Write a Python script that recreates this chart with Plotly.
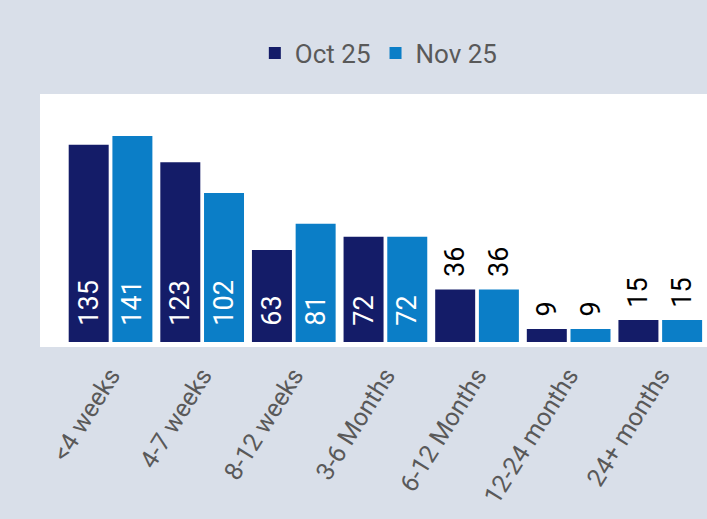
import plotly.graph_objects as go

categories = ["<4 weeks", "4-7 weeks", "8-12 weeks", "3-6 Months", "6-12 Months", "12-24 months", "24+ months"]
oct25 = [135, 123, 63, 72, 36, 9, 15]
nov25 = [141, 102, 81, 72, 36, 9, 15]
series_names = ["Oct 25", "Nov 25"]

NAVY = "#141c68"
BLUE = "#0b7ec7"
BG = "#d9dfe9"
FONT = "Roboto"

PAD_IN = "\u00a0\u00a0"
PAD_OUT = "\u00a0\u200a"


def trace(name, vals, color):
    pos = ["inside" if v > 50 else "outside" for v in vals]
    texts = [(PAD_IN + str(v)) if p == "inside" else (PAD_OUT + str(v)) for v, p in zip(vals, pos)]
    colors = ["white" if p == "inside" else "black" for p in pos]
    return go.Bar(
        name=name, x=categories, y=vals, marker=dict(color=color, line=dict(width=0)),
        text=texts, textposition=pos, textangle=-90, insidetextanchor="start",
        textfont=dict(family=FONT, size=27, color=colors),
        constraintext="none", cliponaxis=False,
    )


fig = go.Figure([trace(series_names[0], oct25, NAVY), trace(series_names[1], nov25, BLUE)])

fig.update_layout(
    width=707, height=519,
    margin=dict(l=40, r=0, t=94, b=172),
    paper_bgcolor=BG, plot_bgcolor="white",
    barmode="group", bargap=0.046, bargroupgap=0.085,
    font=dict(family=FONT, color="#595959"),
    legend=dict(orientation="h", x=0.508, xanchor="center", y=1.162, yanchor="middle",
                font=dict(size=26, color="#595959"), bgcolor="rgba(0,0,0,0)",
                traceorder="normal"),
    showlegend=True,
)
fig.update_xaxes(range=[-0.77, 6.51], tickangle=-58, showgrid=False, showline=False, zeroline=False,
                 tickfont=dict(size=25, color="#595959", family=FONT), ticks="outside",
                 ticklen=3, tickcolor="rgba(0,0,0,0)")
fig.update_yaxes(range=[-3.4, 169.7], visible=False, showgrid=False, zeroline=False)

fig.write_html("out.html", config={"displayModeBar": False},
               post_script="document.body.style.margin='0';document.body.style.overflow='hidden';")
